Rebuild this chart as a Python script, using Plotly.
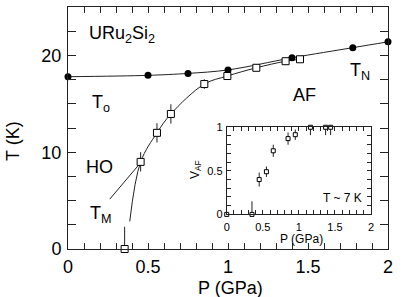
import plotly.graph_objects as go

# ---- data ----
tn_p = [0, 0.5, 0.75, 1.0, 1.4, 1.78, 2.0]
tn_t = [17.8, 17.94, 18.14, 18.5, 19.75, 20.8, 21.4]

tm_p = [0.354, 0.454, 0.556, 0.643, 0.852, 0.996, 1.177, 1.36, 1.45]
tm_t = [0.0, 9.0, 12.0, 13.95, 17.04, 17.87, 18.72, 19.4, 19.6]
tm_err_plus = [2.3, 1.0, 1.0, 1.0, 0.5, 0.3, 0.3, 0.3, 0.3]
tm_err_minus = [0.0, 1.0, 1.0, 1.0, 0.5, 0.3, 0.3, 0.3, 0.3]

tm_curve_p = [0.386, 0.454, 0.556, 0.643, 0.852, 0.996, 1.177, 1.36, 1.45]
tm_curve_t = [2.85, 9.0, 12.0, 13.95, 17.04, 17.87, 18.72, 19.4, 19.6]

tm_pointer_p = [0.261, 0.448]
tm_pointer_t = [5.15, 8.8]

vaf_p = [0, 0.35, 0.45, 0.55, 0.645, 0.85, 0.95, 1.16, 1.37, 1.44]
vaf_v = [0, 0, 0.40, 0.49, 0.73, 0.87, 0.915, 1.0, 1.0, 1.0]
vaf_err_plus = [0, 0.15, 0.08, 0.06, 0.07, 0.07, 0.06, 0, 0, 0]
vaf_err_minus = [0, 0, 0.08, 0.06, 0.07, 0.07, 0.06, 0.09, 0.09, 0.09]

main_xticks = [0, 0.5, 1, 1.5, 2]
main_xticklabels = ["0", "0.5", "1", "1.5", "2"]
main_yticks = [0, 10, 20]
inset_xticks = [0, 0.5, 1, 1.5, 2]
inset_xticklabels = ["0", "0.5", "1", "1.5", "2"]
inset_yticks = [0, 0.5, 1]
inset_yticklabels = ["0", "0.5", "1"]

FONT = "Liberation Sans, Arial, sans-serif"
LC = "#222222"

fig = go.Figure()

fig.add_trace(go.Scatter(x=tn_p, y=tn_t, mode="lines",
                         line=dict(color=LC, width=1, shape="spline"),
                         hoverinfo="skip", cliponaxis=False))
fig.add_trace(go.Scatter(x=tm_curve_p, y=tm_curve_t, mode="lines",
                         line=dict(color=LC, width=1, shape="spline"),
                         hoverinfo="skip"))
fig.add_trace(go.Scatter(x=tm_pointer_p, y=tm_pointer_t, mode="lines",
                         line=dict(color=LC, width=1), hoverinfo="skip"))
fig.add_trace(go.Scatter(x=tn_p, y=tn_t, mode="markers",
                         marker=dict(symbol="circle", size=7, color="black"),
                         cliponaxis=False))
fig.add_trace(go.Scatter(x=tm_p, y=tm_t, mode="markers",
                         marker=dict(symbol="square", size=7, color="white",
                                     line=dict(color="black", width=1)),
                         error_y=dict(type="data", symmetric=False,
                                      array=tm_err_plus, arrayminus=tm_err_minus,
                                      color=LC, thickness=1, width=0),
                         cliponaxis=False))

fig.add_trace(go.Scatter(x=vaf_p, y=vaf_v, mode="markers", xaxis="x2", yaxis="y2",
                         marker=dict(symbol="square", size=4, color="white",
                                     line=dict(color="black", width=1)),
                         error_y=dict(type="data", symmetric=False,
                                      array=vaf_err_plus, arrayminus=vaf_err_minus,
                                      color=LC, thickness=1, width=0),
                         cliponaxis=False))

axis_common = dict(showgrid=False, zeroline=False, showline=True, linecolor=LC,
                   linewidth=1, mirror="allticks", ticks="inside", tickcolor=LC,
                   automargin=False)

fig.update_layout(
    width=415, height=297,
    margin=dict(l=68, r=27, t=7, b=48),
    paper_bgcolor="white", plot_bgcolor="white",
    showlegend=False,
    font=dict(family=FONT, color="black", size=18),
    xaxis=dict(range=[0, 2], tickvals=main_xticks, ticktext=main_xticklabels,
               ticklen=6, tickfont=dict(size=18), ticklabelstandoff=1,
               minor=dict(dtick=0.1, tick0=0, ticklen=6, ticks="inside", tickcolor=LC),
               **axis_common),
    yaxis=dict(range=[0, 25], tickvals=main_yticks,
               ticklen=8, tickfont=dict(size=18), ticklabelstandoff=2,
               minor=dict(dtick=2.5, tick0=0, ticklen=8, ticks="inside", tickcolor=LC),
               **axis_common),
    xaxis2=dict(domain=[0.496, 0.947], anchor="y2", range=[0, 2],
                tickvals=inset_xticks, ticktext=inset_xticklabels,
                ticklen=4, tickfont=dict(size=11), ticklabelstandoff=2,
                minor=dict(dtick=0.1, tick0=0, ticklen=4, ticks="inside", tickcolor=LC),
                **axis_common),
    yaxis2=dict(domain=[0.143, 0.503], anchor="x2", range=[0, 1],
                tickvals=inset_yticks, ticktext=inset_yticklabels,
                ticklen=4, tickfont=dict(size=11), ticklabelstandoff=1,
                minor=dict(dtick=0.1, tick0=0, ticklen=4, ticks="inside", tickcolor=LC),
                **axis_common),
)

ann = []
def label(text, x, y, xanchor="left", yanchor="middle", size=18, xref="x", yref="y", angle=0):
    ann.append(dict(text=text, x=x, y=y, xref=xref, yref=yref, showarrow=False,
                    xanchor=xanchor, yanchor=yanchor, textangle=angle,
                    font=dict(size=size, family=FONT, color="black")))

label("URu<sub>2</sub>Si<sub>2</sub>", 0.117, 22.2)
label("T<sub>o</sub>", 0.135, 15.0)
label("HO", 0.195, 8.5, xanchor="center")
label("T<sub>M</sub>", 0.123, 3.6)
label("AF", 1.479, 15.9, xanchor="center")
label("T<sub>N</sub>", 1.748, 18.3)
label("T ~ 7 K", 1.90, 0.193, xanchor="right", size=12, xref="x2", yref="y2")
label("T (K)", -0.172, 0.446, xanchor="center", xref="paper", yref="paper", angle=-90)
label("P (GPa)", 0.509, -0.16, xanchor="center", xref="paper", yref="paper")
label("P (GPa)", 0.731, 0.041, xanchor="center", size=12, xref="paper", yref="paper")
label("V<sub>AF</sub>", 0.40, 0.326, xanchor="center", size=12, xref="paper", yref="paper", angle=-90)
fig.update_layout(annotations=ann)

fig.write_html("out.html", config={"displayModeBar": False},
               post_script="document.body.style.margin='0';document.body.style.overflow='hidden';")
